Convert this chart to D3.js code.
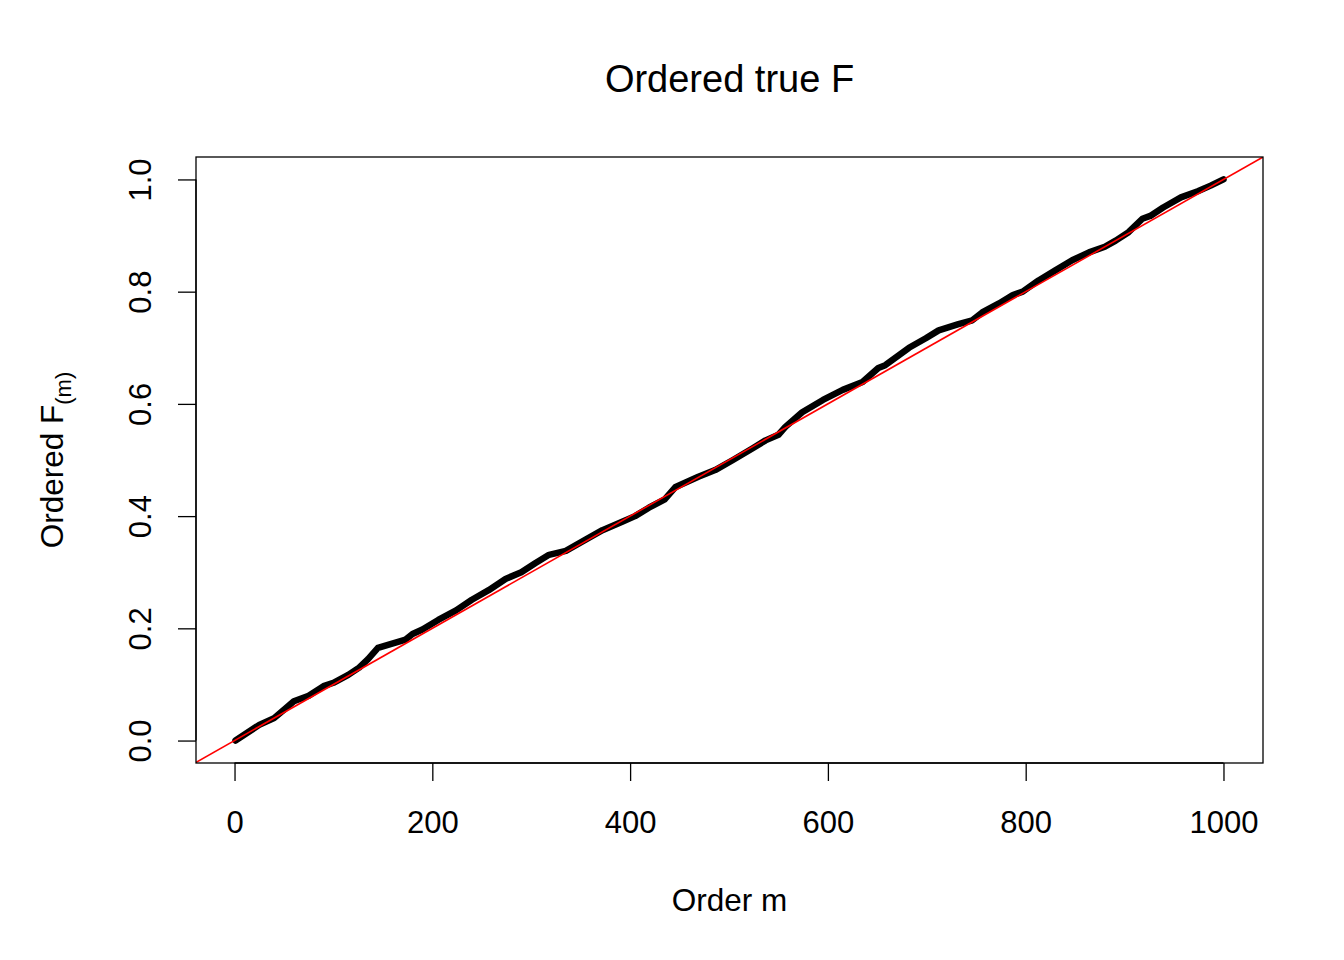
<!DOCTYPE html>
<html><head><meta charset="utf-8">
<script src="https://cdn.jsdelivr.net/npm/d3@7"></script>
<style>body{margin:0;background:#fff;} text{font-family:"Liberation Sans",Arial,sans-serif;}</style>
</head><body>
<svg id="c" width="1344" height="960"></svg>
<script>
const orderM = [1,25,40,50,60,75,90,100,115,126,135,145,156,173,180,190,206,224,240,257,274,290,304,318,335,355,372,392,405,419,435,446,469,486,504,524,537,550,557,574,595,615,635,651,658,682,699,712,732,746,756,773,787,797,813,830,847,864,880,891,904,918,926,939,957,974,987,1000];
const orderedF = [0.0,0.028,0.04,0.055,0.07,0.08,0.097,0.103,0.117,0.13,0.145,0.165,0.171,0.18,0.19,0.198,0.215,0.232,0.251,0.268,0.288,0.30,0.316,0.331,0.338,0.358,0.375,0.39,0.40,0.415,0.43,0.452,0.47,0.482,0.5,0.521,0.535,0.545,0.559,0.585,0.607,0.625,0.639,0.664,0.669,0.70,0.717,0.731,0.742,0.749,0.763,0.779,0.794,0.80,0.82,0.838,0.856,0.87,0.88,0.891,0.906,0.93,0.935,0.95,0.968,0.979,0.989,1.0];
const xTicks = [0,200,400,600,800,1000];
const yTicks = [0.0,0.2,0.4,0.6,0.8,1.0];
const titleText = "Ordered true F";
const xLabel = "Order m";

const svg = d3.select("#c");
const L=196, R=1263, T=157, B=763;
const x = d3.scaleLinear().domain([1-39.96,1000+39.96]).range([L,R]);
const y = d3.scaleLinear().domain([-0.04,1.04]).range([B,T]);

svg.append("defs").append("clipPath").attr("id","clip")
  .append("rect").attr("x",L).attr("y",T).attr("width",R-L).attr("height",B-T);

// data line (dense thick points)
const pts = orderM.map((m,i)=>[m,orderedF[i]]);
svg.append("path").datum(pts)
  .attr("d", d3.line().x(d=>x(d[0])).y(d=>y(d[1])))
  .attr("fill","none").attr("stroke","#000").attr("stroke-width",6.5)
  .attr("stroke-linejoin","round").attr("stroke-linecap","round");

// reference line y = m/1000
svg.append("line").attr("clip-path","url(#clip)")
  .attr("x1",x(-100)).attr("y1",y(-0.1)).attr("x2",x(1100)).attr("y2",y(1.1))
  .attr("stroke","#ff0000").attr("stroke-width",1.6);

// box
svg.append("rect").attr("x",L).attr("y",T).attr("width",R-L).attr("height",B-T)
  .attr("fill","none").attr("stroke","#000").attr("stroke-width",1.3);

// x axis
const xa = svg.append("g").attr("transform",`translate(0,${B})`)
  .call(d3.axisBottom(x).tickValues(xTicks).tickSize(18).tickPadding(30).tickFormat(d3.format("d")));
xa.select(".domain").attr("d",`M${x(0)},0H${x(1000)}`).attr("stroke-width",1.3);
xa.selectAll(".tick line").attr("stroke-width",1.3);
xa.selectAll("text").attr("font-size",31).attr("font-family","Liberation Sans, Arial, sans-serif").attr("fill","#000");

// y axis
const ya = svg.append("g").attr("transform",`translate(${L},0)`)
  .call(d3.axisLeft(y).tickValues(yTicks).tickSize(18).tickFormat(d3.format(".1f")));
ya.select(".domain").attr("d",`M0,${y(0)}V${y(1)}`).attr("stroke-width",1.3);
ya.selectAll(".tick line").attr("stroke-width",1.3);
ya.selectAll("text").remove();
ya.selectAll(".tick").append("text")
  .attr("transform","translate(-56,0) rotate(-90)")
  .attr("text-anchor","middle").attr("dy","0.35em")
  .attr("font-size",31).attr("font-family","Liberation Sans, Arial, sans-serif").attr("fill","#000")
  .text(d=>d3.format(".1f")(d));

// title
svg.append("text").attr("x",(L+R)/2).attr("y",92).attr("text-anchor","middle")
  .attr("font-size",38).text(titleText);
// x label
svg.append("text").attr("x",(L+R)/2).attr("y",911).attr("text-anchor","middle")
  .attr("font-size",31.5).text(xLabel);
// y label
const yl = svg.append("text").attr("transform",`translate(63,${(T+B)/2}) rotate(-90)`)
  .attr("text-anchor","middle").attr("font-size",31.5);
yl.append("tspan").text("Ordered F");
yl.append("tspan").attr("font-size",22).attr("dy",8).text("(m)");
</script>
</body></html>
